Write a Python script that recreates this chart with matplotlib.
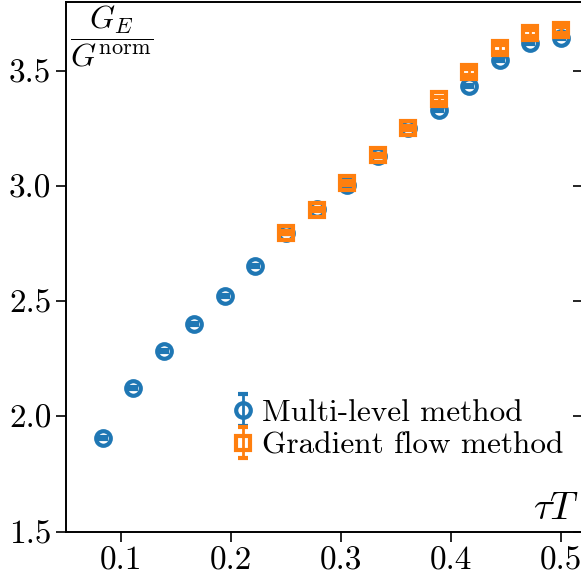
import matplotlib
matplotlib.use("Agg")
import matplotlib.pyplot as plt
import matplotlib.lines as mlines

plt.rcParams['font.family'] = 'serif'
plt.rcParams['font.serif'] = ['cmr10']
plt.rcParams['mathtext.fontset'] = 'cm'
plt.rcParams['axes.formatter.use_mathtext'] = True

tauT_ml = [3/36, 4/36, 5/36, 6/36, 7/36, 8/36, 9/36, 10/36, 11/36, 12/36,
           13/36, 14/36, 15/36, 16/36, 17/36, 18/36]
G_ml = [1.908, 2.122, 2.283, 2.400, 2.522, 2.653, 2.795, 2.898, 3.004, 3.128,
        3.250, 3.328, 3.432, 3.546, 3.621, 3.643]
err_ml = [0.004, 0.004, 0.004, 0.004, 0.004, 0.004, 0.004, 0.004, 0.004, 0.004,
          0.005, 0.005, 0.005, 0.006, 0.006, 0.006]

tauT_gf = [9/36, 10/36, 11/36, 12/36, 13/36, 14/36, 15/36, 16/36, 17/36, 18/36]
G_gf = [2.797, 2.897, 3.013, 3.132, 3.250, 3.375, 3.495, 3.598, 3.664, 3.677]
err_gf = [0.006, 0.006, 0.007, 0.007, 0.008, 0.012, 0.014, 0.015, 0.012, 0.012]

W, H = 581, 574
fig = plt.figure(figsize=(W/100, H/100), dpi=100)
ax = fig.add_axes([66/W, (H-531.7)/H, (583-66)/W, (531.7-1.5)/H])

common = dict(mfc='none', ms=10.5, mew=3.0, capsize=3.4, capthick=2.0,
              elinewidth=2.0)
c1 = ax.errorbar(tauT_ml, G_ml, yerr=err_ml, fmt='o', color='#1f77b4',
                 mec='#1f77b4', label='Multi-level method', zorder=3, **common)
c2 = ax.errorbar(tauT_gf, G_gf, yerr=err_gf, fmt='s', color='#ff7f0e',
                 mec='#ff7f0e', label='Gradient flow method', zorder=5, **common)
for c, z in ((c1, 4), (c2, 6)):
    for cap in c[1]:
        cap.set_zorder(z)
    for bar in c[2]:
        bar.set_zorder(z)

ax.set_xlim(0.05, 0.52)
ax.set_ylim(1.5, 3.8)
ax.set_xticks([0.1, 0.2, 0.3, 0.4, 0.5])
ax.set_yticks([1.5, 2.0, 2.5, 3.0, 3.5])
ax.set_xticklabels(['0.1', '0.2', '0.3', '0.4', '0.5'])
ax.set_yticklabels(['1.5', '2.0', '2.5', '3.0', '3.5'])
ax.tick_params(axis='both', which='major', labelsize=24, length=7, width=1.2,
               direction='out', top=False, right=True)
for t in ax.yaxis.get_major_ticks():
    t.tick2line.set_marker(mlines.TICKLEFT)
for s in ax.spines.values():
    s.set_linewidth(1.4)

fig.text(70/W, 1-4/H, r'$\dfrac{G_E}{G^{\mathrm{norm}}}$', fontsize=23,
         ha='left', va='top')
fig.text(579/W, 1-527/H, r'$\tau T$', fontsize=28, ha='right', va='bottom')

leg = ax.legend(loc='upper left', bbox_to_anchor=(232/W, 1-399/H),
                bbox_transform=fig.transFigure, frameon=False, fontsize=22.5,
                handlelength=0.7, handletextpad=0.25, borderpad=0,
                labelspacing=0.15, borderaxespad=0)

fig.savefig('out.png', dpi=100)
